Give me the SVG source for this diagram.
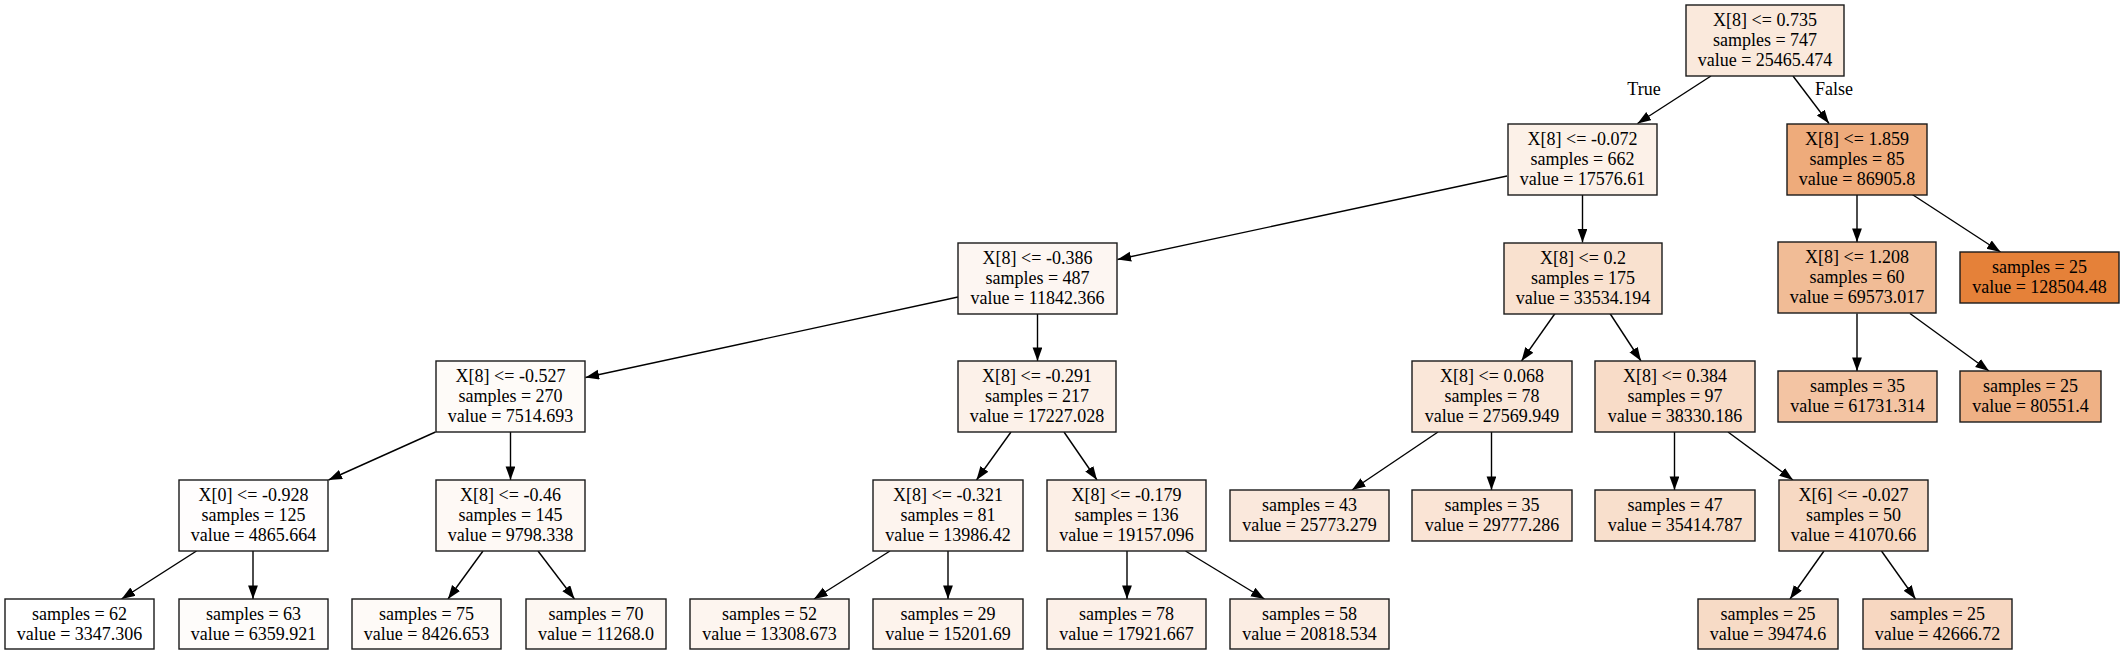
<svg xmlns="http://www.w3.org/2000/svg" width="2125" height="655" viewBox="0 0 2125 655">
<defs>
<style>
.n rect{stroke:#1a1a1a;stroke-width:1.4}
.n text,.lbl{font-family:"Liberation Serif","Times New Roman",serif;font-size:18px;fill:#000;text-anchor:middle}
.e line{stroke:#000;stroke-width:1.4;marker-end:url(#arr)}
</style>
<marker id="arr" markerUnits="userSpaceOnUse" markerWidth="16" markerHeight="12" refX="13.6" refY="4.9" orient="auto">
<path d="M0,0 L13.6,4.9 L0,9.8 Z" fill="#000"/>
</marker>
</defs>
<rect width="2125" height="655" fill="#fff"/>
<g id="edges" class="e">
<line x1="1711" y1="76" x2="1637.5" y2="123.5"/>
<line x1="1793" y1="76" x2="1829" y2="123.5"/>
<line x1="1507" y1="176" x2="1117.5" y2="259.5"/>
<line x1="1582.5" y1="195" x2="1582.5" y2="242.5"/>
<line x1="1857" y1="195" x2="1857" y2="242"/>
<line x1="1911.5" y1="194" x2="2000.5" y2="252"/>
<line x1="958" y1="297" x2="585.5" y2="377.5"/>
<line x1="1037.5" y1="314" x2="1037.5" y2="361"/>
<line x1="1555" y1="313.5" x2="1521.5" y2="361"/>
<line x1="1610" y1="313.5" x2="1641" y2="361"/>
<line x1="1857" y1="313.5" x2="1857" y2="371"/>
<line x1="1910" y1="313.5" x2="1989" y2="371"/>
<line x1="435.5" y1="432" x2="328.5" y2="480"/>
<line x1="510.5" y1="432" x2="510.5" y2="480"/>
<line x1="1011" y1="432" x2="976.5" y2="480"/>
<line x1="1064" y1="432" x2="1097" y2="480"/>
<line x1="1438" y1="432" x2="1352" y2="490"/>
<line x1="1491.5" y1="432" x2="1491.5" y2="490"/>
<line x1="1674.5" y1="432" x2="1674.5" y2="490"/>
<line x1="1728" y1="432" x2="1793" y2="480"/>
<line x1="196.5" y1="551" x2="121.5" y2="599"/>
<line x1="253" y1="551" x2="253" y2="599"/>
<line x1="483" y1="551" x2="448" y2="599"/>
<line x1="538" y1="551" x2="574.5" y2="599"/>
<line x1="890" y1="551" x2="814" y2="599"/>
<line x1="948" y1="551" x2="948" y2="599"/>
<line x1="1127" y1="551" x2="1127" y2="599"/>
<line x1="1185.5" y1="551" x2="1264.5" y2="599"/>
<line x1="1824" y1="551" x2="1790" y2="599"/>
<line x1="1881.5" y1="551" x2="1915.5" y2="599"/>
<text class="lbl" x="1644" y="95">True</text>
<text class="lbl" x="1834" y="95">False</text>
</g>
<g id="n0" class="n"><rect x="1686" y="5" width="158" height="71" fill="#fae9dc"/><text x="1765" y="25.5">X[8] &lt;= 0.735<tspan x="1765" dy="20">samples = 747</tspan><tspan x="1765" dy="20">value = 25465.474</tspan></text></g>
<g id="n1" class="n"><rect x="1508" y="124" width="149" height="71" fill="#fcf1e8"/><text x="1582.5" y="144.5">X[8] &lt;= -0.072<tspan x="1582.5" dy="20">samples = 662</tspan><tspan x="1582.5" dy="20">value = 17576.61</tspan></text></g>
<g id="n2" class="n"><rect x="1787" y="124" width="140" height="71" fill="#eeab7b"/><text x="1857" y="144.5">X[8] &lt;= 1.859<tspan x="1857" dy="20">samples = 85</tspan><tspan x="1857" dy="20">value = 86905.8</tspan></text></g>
<g id="n3" class="n"><rect x="958" y="243" width="159" height="71" fill="#fdf6f2"/><text x="1037.5" y="263.5">X[8] &lt;= -0.386<tspan x="1037.5" dy="20">samples = 487</tspan><tspan x="1037.5" dy="20">value = 11842.366</tspan></text></g>
<g id="n4" class="n"><rect x="1504" y="243" width="158" height="71" fill="#f9e1cf"/><text x="1583" y="263.5">X[8] &lt;= 0.2<tspan x="1583" dy="20">samples = 175</tspan><tspan x="1583" dy="20">value = 33534.194</tspan></text></g>
<g id="n5" class="n"><rect x="1778" y="242" width="158" height="71" fill="#f1bc96"/><text x="1857" y="262.5">X[8] &lt;= 1.208<tspan x="1857" dy="20">samples = 60</tspan><tspan x="1857" dy="20">value = 69573.017</tspan></text></g>
<g id="n6" class="n"><rect x="1960" y="252" width="159" height="51" fill="#e58139"/><text x="2039.5" y="272.5">samples = 25<tspan x="2039.5" dy="20">value = 128504.48</tspan></text></g>
<g id="n7" class="n"><rect x="436" y="361" width="149" height="71" fill="#fefbf8"/><text x="510.5" y="381.5">X[8] &lt;= -0.527<tspan x="510.5" dy="20">samples = 270</tspan><tspan x="510.5" dy="20">value = 7514.693</tspan></text></g>
<g id="n8" class="n"><rect x="958" y="361" width="158" height="71" fill="#fcf1e9"/><text x="1037" y="381.5">X[8] &lt;= -0.291<tspan x="1037" dy="20">samples = 217</tspan><tspan x="1037" dy="20">value = 17227.028</tspan></text></g>
<g id="n9" class="n"><rect x="1412" y="361" width="160" height="71" fill="#fae7d9"/><text x="1492" y="381.5">X[8] &lt;= 0.068<tspan x="1492" dy="20">samples = 78</tspan><tspan x="1492" dy="20">value = 27569.949</tspan></text></g>
<g id="n10" class="n"><rect x="1595" y="361" width="160" height="71" fill="#f8dcc8"/><text x="1675" y="381.5">X[8] &lt;= 0.384<tspan x="1675" dy="20">samples = 97</tspan><tspan x="1675" dy="20">value = 38330.186</tspan></text></g>
<g id="n11" class="n"><rect x="1778" y="371" width="159" height="51" fill="#f3c4a3"/><text x="1857.5" y="391.5">samples = 35<tspan x="1857.5" dy="20">value = 61731.314</tspan></text></g>
<g id="n12" class="n"><rect x="1960" y="371" width="141" height="51" fill="#efb185"/><text x="2030.5" y="391.5">samples = 25<tspan x="2030.5" dy="20">value = 80551.4</tspan></text></g>
<g id="n13" class="n"><rect x="179" y="480" width="149" height="71" fill="#fffdfd"/><text x="253.5" y="500.5">X[0] &lt;= -0.928<tspan x="253.5" dy="20">samples = 125</tspan><tspan x="253.5" dy="20">value = 4865.664</tspan></text></g>
<g id="n14" class="n"><rect x="436" y="480" width="149" height="71" fill="#fef9f5"/><text x="510.5" y="500.5">X[8] &lt;= -0.46<tspan x="510.5" dy="20">samples = 145</tspan><tspan x="510.5" dy="20">value = 9798.338</tspan></text></g>
<g id="n15" class="n"><rect x="873" y="480" width="150" height="71" fill="#fdf4ee"/><text x="948" y="500.5">X[8] &lt;= -0.321<tspan x="948" dy="20">samples = 81</tspan><tspan x="948" dy="20">value = 13986.42</tspan></text></g>
<g id="n16" class="n"><rect x="1047" y="480" width="159" height="71" fill="#fcefe6"/><text x="1126.5" y="500.5">X[8] &lt;= -0.179<tspan x="1126.5" dy="20">samples = 136</tspan><tspan x="1126.5" dy="20">value = 19157.096</tspan></text></g>
<g id="n17" class="n"><rect x="1230" y="490" width="159" height="51" fill="#fae8dc"/><text x="1309.5" y="510.5">samples = 43<tspan x="1309.5" dy="20">value = 25773.279</tspan></text></g>
<g id="n18" class="n"><rect x="1412" y="490" width="160" height="51" fill="#fae4d5"/><text x="1492" y="510.5">samples = 35<tspan x="1492" dy="20">value = 29777.286</tspan></text></g>
<g id="n19" class="n"><rect x="1595" y="490" width="160" height="51" fill="#f8dfcc"/><text x="1675" y="510.5">samples = 47<tspan x="1675" dy="20">value = 35414.787</tspan></text></g>
<g id="n20" class="n"><rect x="1779" y="480" width="149" height="71" fill="#f7d9c3"/><text x="1853.5" y="500.5">X[6] &lt;= -0.027<tspan x="1853.5" dy="20">samples = 50</tspan><tspan x="1853.5" dy="20">value = 41070.66</tspan></text></g>
<g id="n21" class="n"><rect x="5" y="599" width="149" height="50" fill="#ffffff"/><text x="79.5" y="619.5">samples = 62<tspan x="79.5" dy="20">value = 3347.306</tspan></text></g>
<g id="n22" class="n"><rect x="179" y="599" width="149" height="50" fill="#fefcfa"/><text x="253.5" y="619.5">samples = 63<tspan x="253.5" dy="20">value = 6359.921</tspan></text></g>
<g id="n23" class="n"><rect x="352" y="599" width="149" height="50" fill="#fefaf7"/><text x="426.5" y="619.5">samples = 75<tspan x="426.5" dy="20">value = 8426.653</tspan></text></g>
<g id="n24" class="n"><rect x="526" y="599" width="140" height="50" fill="#fdf7f2"/><text x="596" y="619.5">samples = 70<tspan x="596" dy="20">value = 11268.0</tspan></text></g>
<g id="n25" class="n"><rect x="690" y="599" width="159" height="50" fill="#fdf5ef"/><text x="769.5" y="619.5">samples = 52<tspan x="769.5" dy="20">value = 13308.673</tspan></text></g>
<g id="n26" class="n"><rect x="873" y="599" width="150" height="50" fill="#fdf3ec"/><text x="948" y="619.5">samples = 29<tspan x="948" dy="20">value = 15201.69</tspan></text></g>
<g id="n27" class="n"><rect x="1047" y="599" width="159" height="50" fill="#fcf0e8"/><text x="1126.5" y="619.5">samples = 78<tspan x="1126.5" dy="20">value = 17921.667</tspan></text></g>
<g id="n28" class="n"><rect x="1230" y="599" width="159" height="50" fill="#fbede3"/><text x="1309.5" y="619.5">samples = 58<tspan x="1309.5" dy="20">value = 20818.534</tspan></text></g>
<g id="n29" class="n"><rect x="1698" y="599" width="140" height="50" fill="#f7dbc6"/><text x="1768" y="619.5">samples = 25<tspan x="1768" dy="20">value = 39474.6</tspan></text></g>
<g id="n30" class="n"><rect x="1863" y="599" width="149" height="50" fill="#f7d7c1"/><text x="1937.5" y="619.5">samples = 25<tspan x="1937.5" dy="20">value = 42666.72</tspan></text></g>
</svg>
